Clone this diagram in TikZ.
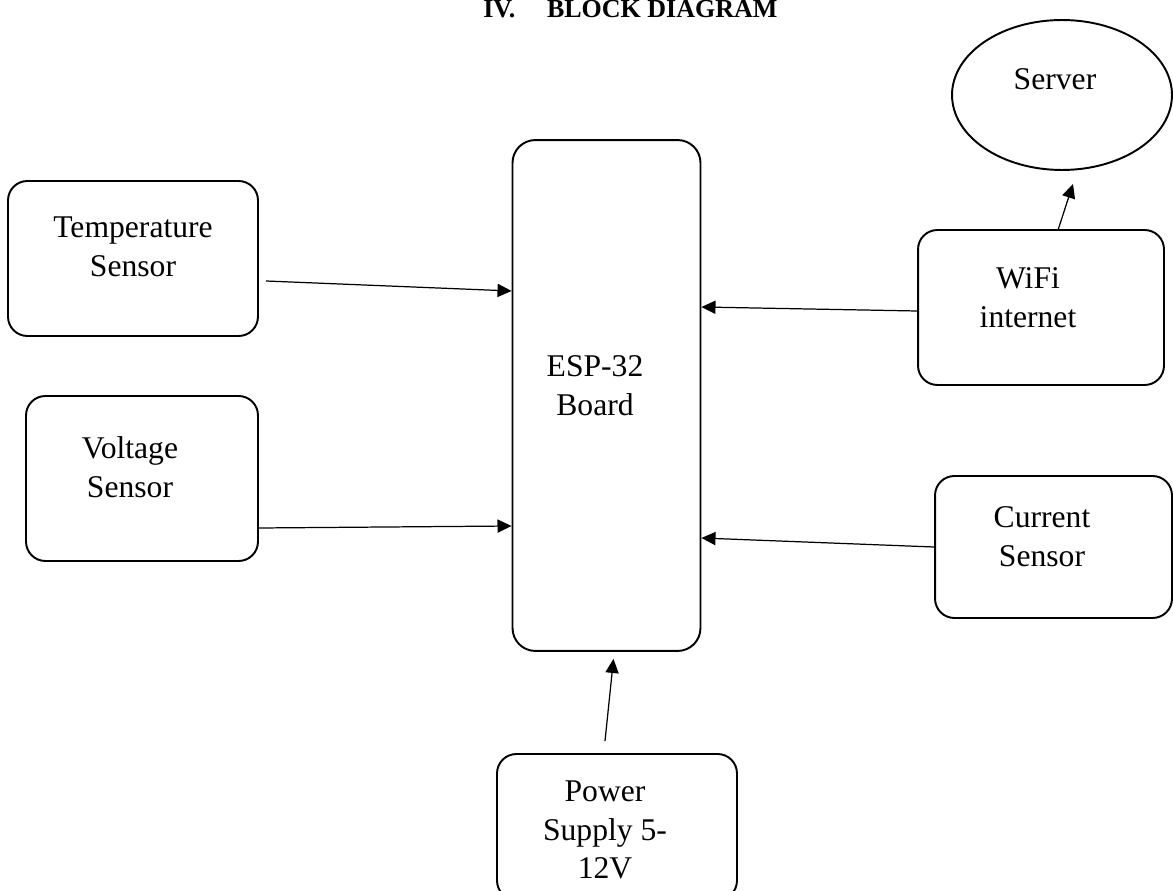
\documentclass[tikz,border=0pt]{standalone}
\usepackage{fontspec}
\setmainfont{Liberation Serif}
\usetikzlibrary{arrows.meta,calc,shapes.geometric}
\tikzset{
  blk/.style={draw, line width=1.1pt, rounded corners=11pt, inner sep=0pt},
  txt/.style={align=center, inner sep=0pt, font=\fontsize{18}{22.1}\selectfont},
  arr/.style={line width=0.7pt, -{Triangle[length=8pt,width=7.5pt]}},
}
\begin{document}
\begin{tikzpicture}[x=0.02cm, y=-0.02cm]
\useasboundingbox (0,0) rectangle (1173,891);
% title
\node[anchor=base west, inner sep=0pt, font=\fontsize{14.8}{16}\selectfont\bfseries] (title) at (483,18) {IV.\hspace{18pt}BLOCK DIAGRAM};
% boxes
\node[blk, minimum width=5cm, minimum height=3.1cm] (temp) at (133,258.5) {};
\node[blk, minimum width=4.64cm, minimum height=3.3cm] (volt) at (142,478.5) {};
\node[blk, minimum width=3.76cm, minimum height=10.22cm, rounded corners=13pt] (esp) at (606.5,395.5) {};
\node[blk, minimum width=4.92cm, minimum height=3.1cm] (wifi) at (1041,307.5) {};
\node[blk, minimum width=4.74cm, minimum height=2.84cm] (curr) at (1053.5,547) {};
\node[blk, minimum width=4.8cm, minimum height=2.92cm] (power) at (617,827) {};
\node[draw, line width=1.1pt, ellipse, minimum width=4.4cm, minimum height=3.0cm, inner sep=0pt] (server) at (1062,95) {};
% texts
\node[txt] (ttemp) at (133,247) {Temperature\\Sensor};
\node[txt] (tvolt) at (130,467) {Voltage\\Sensor};
\node[txt] (tesp) at (595,386) {ESP-32\\Board};
\node[txt] (twifi) at (1028,298) {WiFi\\internet};
\node[txt] (tcurr) at (1042,537) {Current\\Sensor};
\node[txt] (tpower) at (605,830) {Power\\Supply 5-\\12V};
\node[txt] (tserver) at (1055,79) {Server};
% connectors
\draw[arr] ($(temp.east)+(7,22.5)$) -- ($(esp.west)+(0,-104.5)$);
\draw[arr] ($(volt.east)+(0,49.5)$) -- ($(esp.west)+(0,130.5)$);
\draw[arr] ($(wifi.west)+(0,3.5)$) -- ($(esp.east)+(0,-88.5)$);
\draw[arr] ($(curr.west)+(0,0)$) -- ($(esp.east)+(0,142.5)$);
\draw[arr] ($(power.north)+(-12,-12)$) -- ($(esp.south)+(7,7)$);
\draw[arr] ($(wifi.north)+(17,1)$) -- ($(server.south)+(11,13)$);
\end{tikzpicture}
\end{document}
